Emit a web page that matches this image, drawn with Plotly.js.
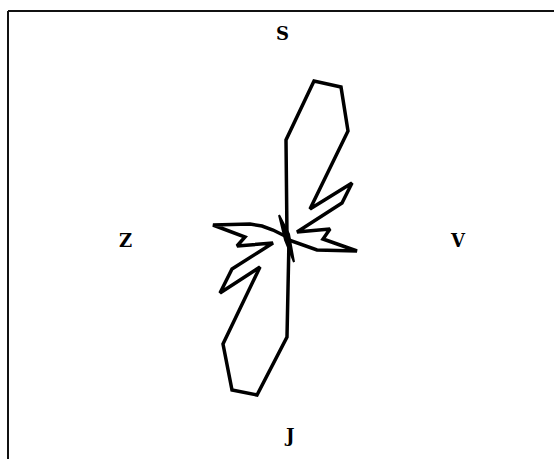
<!DOCTYPE html>
<html>
<head>
<meta charset="utf-8">
<script src="https://cdn.plot.ly/plotly-3.0.1.min.js"></script>
<style>html,body{margin:0;padding:0;background:#fff;}#chart{width:554px;height:459px;}</style>
</head>
<body>
<div id="chart"></div>
<script>
// Outline of the rose diagram: east (+) / north (+) offsets from the centre
var roseEast  = [0, -1, 27, 54, 61, 23, 65, 55, 10, 43, 36, 70, 30, 2, 0, -30, -55, -64, -27, -67, -55, -14, -50, -42, -74, -37, -25, -14, 0];
var roseNorth = [0, 97, 156, 150, 106, 28, 54, 34, 5, 8, -2, -14, -13, -3, -100, -158, -153, -107, -30, -56, -32, -6, -9, 0, 12, 13, 11, 7, 0];
// Narrow NNW–SSE petal through the centre
var lensEast  = [-8, 2, 7, -2, -8];
var lensNorth = [22, 3, -25, -3, 22];
// Cardinal direction labels (Czech: sever, jih, západ, východ)
var dirLabels = ["S", "J", "Z", "V"];
var dirEast   = [-5, 2, -162, 171];
var dirNorth  = [204, -198, -3, -3];

var traces = [
  {type: 'scatter', mode: 'lines', x: roseEast, y: roseNorth,
   line: {color: '#000', width: 3.5, shape: 'linear'}, hoverinfo: 'skip'},
  {type: 'scatter', mode: 'lines', x: lensEast, y: lensNorth, fill: 'toself', fillcolor: '#000',
   line: {color: '#000', width: 2}, hoverinfo: 'skip'}
];

var annotations = dirLabels.map(function(t, i){
  return {x: dirEast[i], y: dirNorth[i], xref: 'x', yref: 'y', text: '<b>' + t + '</b>', showarrow: false,
          font: {family: 'DejaVu Serif, Liberation Serif, serif', size: 18, color: '#000'}};
});

var layout = {
  width: 554, height: 459,
  margin: {l: 0, r: 0, t: 0, b: 0},
  paper_bgcolor: '#fff', plot_bgcolor: '#fff',
  showlegend: false,
  xaxis: {range: [-287, 267], visible: false, fixedrange: true},
  yaxis: {range: [-222, 237], visible: false, fixedrange: true},
  annotations: annotations,
  shapes: [
    {type: 'line', xref: 'paper', yref: 'paper', x0: 8/554, x1: 1, y0: 1 - 11/459, y1: 1 - 11/459, line: {color: '#111', width: 2}},
    {type: 'line', xref: 'paper', yref: 'paper', x0: 8/554, x1: 8/554, y0: 0, y1: 1 - 11/459, line: {color: '#111', width: 2}}
  ]
};

Plotly.newPlot('chart', traces, layout, {displayModeBar: false, staticPlot: true});
</script>
</body>
</html>
